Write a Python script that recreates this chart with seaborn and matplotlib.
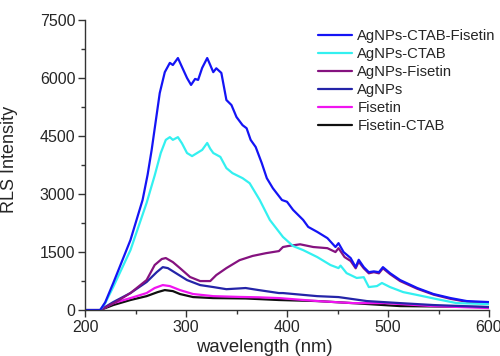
import matplotlib
matplotlib.use("Agg")
import matplotlib.pyplot as plt
from matplotlib.ticker import MultipleLocator
import seaborn as sns
import pandas as pd

series_names = ["AgNPs-CTAB-Fisetin", "AgNPs-CTAB", "AgNPs-Fisetin", "AgNPs", "Fisetin", "Fisetin-CTAB"]
series_colors = ["#1414f5", "#33f0f0", "#85127f", "#2424a8", "#f014f0", "#101010"]

x_acf = [200, 215, 220, 228, 245, 257, 262, 266, 274, 279, 284, 287, 292, 296, 301, 305, 309, 312, 316, 321, 324, 327, 330, 335, 340, 345, 350, 356, 360, 364, 369, 375, 380, 386, 395, 400, 406, 416, 421, 430, 440, 448, 451, 456, 463, 468, 471, 476, 481, 486, 491, 495, 502, 512, 529, 545, 562, 578, 600]
y_acf = [0, 0, 200, 700, 1810, 2845, 3500, 4140, 5610, 6150, 6390, 6335, 6515, 6285, 6000, 5820, 5975, 5950, 6260, 6515, 6335, 6150, 6250, 6130, 5430, 5300, 4990, 4780, 4700, 4400, 4215, 3800, 3410, 3150, 2845, 2800, 2590, 2330, 2150, 2020, 1860, 1630, 1730, 1500, 1345, 1110, 1300, 1110, 980, 1000, 980, 1110, 955, 776, 570, 415, 310, 233, 207]

x_ac = [200, 215, 220, 228, 245, 261, 269, 275, 280, 284, 287, 292, 296, 301, 306, 311, 316, 321, 324, 327, 334, 340, 346, 356, 363, 373, 383, 396, 406, 416, 430, 443, 451, 453, 459, 469, 476, 481, 489, 494, 502, 515, 529, 548, 568, 600]
y_ac = [0, 0, 180, 600, 1550, 2770, 3480, 4060, 4400, 4470, 4400, 4470, 4310, 4060, 3980, 4060, 4140, 4320, 4170, 4060, 3960, 3670, 3540, 3410, 3280, 2845, 2330, 1890, 1655, 1550, 1370, 1165, 1085, 1150, 955, 830, 850, 595, 620, 700, 595, 465, 390, 285, 180, 155]

x_af = [200, 215, 230, 245, 261, 269, 276, 280, 287, 294, 304, 314, 324, 330, 340, 353, 366, 379, 392, 396, 401, 413, 426, 440, 448, 451, 457, 463, 468, 471, 476, 481, 486, 491, 495, 502, 512, 529, 545, 562, 578, 600]
y_af = [0, 0, 200, 440, 776, 1165, 1320, 1345, 1240, 1085, 855, 750, 750, 905, 1085, 1290, 1400, 1470, 1525, 1630, 1655, 1700, 1630, 1600, 1500, 1600, 1370, 1270, 1080, 1250, 1080, 950, 980, 950, 1080, 930, 750, 550, 400, 290, 215, 190]

x_ag = [200, 215, 228, 245, 261, 271, 277, 282, 290, 301, 314, 327, 340, 353, 359, 372, 392, 396, 430, 451, 479, 512, 545, 600]
y_ag = [0, 0, 207, 440, 725, 980, 1110, 1085, 955, 776, 646, 595, 540, 560, 570, 517, 440, 440, 360, 336, 233, 180, 130, 78]

x_fi = [200, 215, 228, 245, 261, 269, 277, 284, 294, 307, 327, 353, 372, 392, 430, 465, 497, 545, 600]
y_fi = [0, 0, 180, 310, 440, 570, 646, 620, 517, 415, 360, 340, 330, 310, 233, 180, 180, 103, 52]

x_fc = [200, 215, 228, 245, 261, 272, 279, 287, 294, 307, 327, 359, 392, 430, 465, 512, 600]
y_fc = [0, 0, 130, 260, 360, 465, 517, 490, 415, 336, 310, 300, 260, 233, 180, 103, 78]

x_ticks = [200, 300, 400, 500, 600]
y_ticks = [0, 1500, 3000, 4500, 6000, 7500]

xs = [x_acf, x_ac, x_af, x_ag, x_fi, x_fc]
ys = [y_acf, y_ac, y_af, y_ag, y_fi, y_fc]
frames = []
for name, xv, yv in zip(series_names, xs, ys):
    frames.append(pd.DataFrame({"wavelength": xv, "intensity": yv, "sample": name}))
df = pd.concat(frames, ignore_index=True)

sns.set_style("white")
plt.rcParams["font.family"] = ["Liberation Sans", "DejaVu Sans"]

fig = plt.figure(figsize=(5.0, 3.56), dpi=100)
ax = fig.add_axes([0.17, 0.129, 0.808, 0.815])

draw_order = series_names[::-1]
palette = dict(zip(series_names, series_colors))
sns.lineplot(data=df, x="wavelength", y="intensity", hue="sample", hue_order=draw_order,
             palette=palette, linewidth=1.6, ax=ax, estimator=None, sort=False)

ax.set_xlim(200, 600)
ax.set_ylim(0, 7500)
ax.set_xticks(x_ticks)
ax.set_yticks(y_ticks)
ax.xaxis.set_minor_locator(MultipleLocator(50))
ax.yaxis.set_minor_locator(MultipleLocator(750))
ax.tick_params(which="major", direction="out", length=5, width=1, labelsize=11.5, color="#333333",
               bottom=True, left=True, pad=2)
ax.tick_params(which="minor", direction="out", length=3, width=1, color="#333333", bottom=True, left=True)
for s in ["top", "right"]:
    ax.spines[s].set_visible(False)
for s in ["left", "bottom"]:
    ax.spines[s].set_color("#333333")
    ax.spines[s].set_linewidth(1)
ax.set_xlabel("wavelength (nm)", fontsize=13.3)
ax.set_ylabel("RLS Intensity", fontsize=13)
ax.xaxis.set_label_coords(0.445, -0.1)
ax.yaxis.set_label_coords(-0.165, 0.52)

handles, labels = ax.get_legend_handles_labels()
hmap = dict(zip(labels, handles))
leg = ax.legend([hmap[n] for n in series_names], series_names, loc="upper left",
                frameon=False, fontsize=10.7, handlelength=2.3, handletextpad=0.35,
                labelspacing=0.27, borderaxespad=0, borderpad=0)
for h in leg.get_lines():
    h.set_linewidth(1.6)
leg.set_bbox_to_anchor((0.636, 0.918), transform=fig.transFigure)

fig.savefig("out.png", dpi=100)
